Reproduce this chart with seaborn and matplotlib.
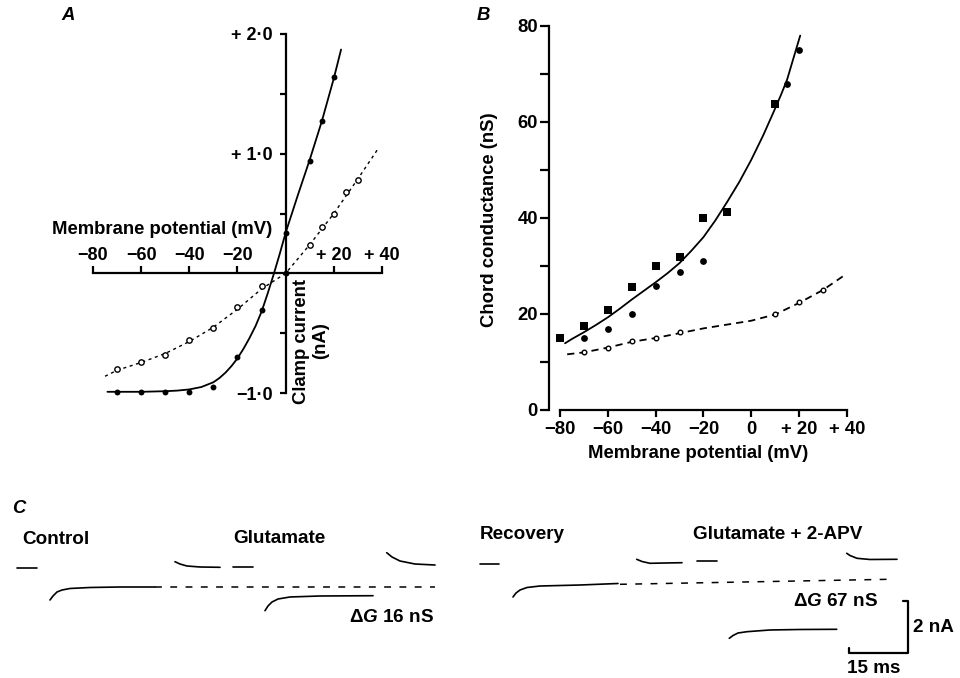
import matplotlib
matplotlib.use("Agg")
import matplotlib.pyplot as plt
import seaborn as sns

# ---------------- Panel A : I-V relation ----------------
a_v_fill = [-70, -60, -50, -40, -30, -20, -10, 0, 0, 10, 15, 20]
a_i_fill = [-0.99, -0.99, -0.99, -0.99, -0.95, -0.70, -0.31, 0.34, 0.0, 0.94, 1.27, 1.64]
a_v_open = [-70, -60, -50, -40, -30, -20, -10, 10, 15, 20, 25, 30]
a_i_open = [-0.80, -0.745, -0.68, -0.56, -0.455, -0.28, -0.11, 0.24, 0.39, 0.50, 0.68, 0.78]
a_fit_v = [-74, -60, -50, -45, -40, -35, -30, -27.5, -25, -22.5, -20, -17.5, -15, -12.5, -10,
           -7.5, -5, -2.5, 0, 5, 10, 15, 20, 23]
a_fit_i = [-0.99, -0.99, -0.985, -0.98, -0.97, -0.95, -0.91, -0.875, -0.83, -0.775, -0.71,
           -0.63, -0.54, -0.44, -0.32, -0.17, -0.01, 0.16, 0.34, 0.65, 0.95, 1.27, 1.63, 1.87]
a_dash_v = [-75, -70, -60, -50, -40, -30, -20, -10, 0, 10, 20, 30, 38]
a_dash_i = [-0.86, -0.81, -0.745, -0.67, -0.57, -0.45, -0.30, -0.13, 0.0, 0.24, 0.50, 0.79, 1.03]
a_xticks = [-80, -60, -40, -20, 20, 40]
a_xticklabels = ["\u221280", "\u221260", "\u221240", "\u221220", "+ 20", "+ 40"]
a_yticks = [-1.0, -0.5, 0.5, 1.0, 1.5, 2.0]
a_yticklabels = ["\u22121\u00b70", "", "", "+ 1\u00b70", "", "+ 2\u00b70"]

# ---------------- Panel B : chord conductance ----------------
b_v_sq = [-80, -70, -60, -50, -40, -30, -20, -10, 10]
b_g_sq = [14.9, 17.5, 20.8, 25.7, 30.0, 31.8, 40.1, 41.2, 63.8]
b_v_ci = [-70, -60, -50, -40, -30, -20, 15, 20]
b_g_ci = [14.9, 16.9, 19.9, 25.8, 28.75, 31.1, 67.9, 74.9]
b_v_open = [-70, -60, -50, -40, -30, 10, 20, 30]
b_g_open = [12.0, 13.0, 14.4, 14.9, 16.2, 19.9, 22.4, 24.9]
b_fit_v = [-77.9, -75, -70, -65, -60, -55, -50, -45, -40, -35, -30, -25, -20, -15, -10, -5,
           0, 5, 10, 12.5, 15, 17.5, 20.5]
b_fit_g = [13.9, 14.8, 16.2, 17.7, 19.3, 21.1, 23.0, 24.8, 26.6, 28.5, 30.6, 33.2, 36.0, 39.5,
           43.4, 47.5, 52.1, 57.2, 62.8, 65.7, 68.8, 73.0, 78.0]
b_dash_v = [-77, -70, -60, -50, -40, -30, -20, -10, 0, 10, 20, 30, 38.5]
b_dash_g = [11.6, 12.0, 13.0, 14.2, 15.0, 16.0, 17.0, 17.8, 18.6, 19.9, 22.3, 25.0, 27.9]
b_xticks = [-80, -60, -40, -20, 0, 20, 40]
b_xticklabels = ["\u221280", "\u221260", "\u221240", "\u221220", "0", "+ 20", "+ 40"]
b_yticks = [0, 10, 20, 30, 40, 50, 60, 70, 80]
b_yticklabels = ["0", "", "20", "", "40", "", "60", "", "80"]

# ---------------- Panel C : current traces (ms, nA) ----------------
ctrl_hold_t = [4.33, 9.41]
ctrl_hold_i = [4.207, 4.207]
ctrl_step_t = [12.72, 13.49, 14.50, 15.78, 17.81, 22.90, 30.53, 39.44]
ctrl_step_i = [2.983, 3.136, 3.289, 3.365, 3.423, 3.461, 3.480, 3.480]
ctrl_base_t = [39.44, 110.69]
ctrl_base_i = [3.480, 3.480]
ctrl_post_t = [44.53, 45.80, 47.58, 50.89, 55.98]
ctrl_post_i = [4.447, 4.359, 4.283, 4.245, 4.233]
glu_hold_t = [59.29, 64.38]
glu_hold_i = [4.256, 4.256]
glu_step_t = [67.43, 68.19, 69.21, 70.74, 73.79, 81.42, 94.91]
glu_step_i = [2.574, 2.753, 2.906, 3.021, 3.098, 3.136, 3.147]
glu_post_t = [98.40, 99.75, 101.78, 105.60, 110.69]
glu_post_i = [4.792, 4.627, 4.474, 4.359, 4.321]

rec_hold_t = [122.14, 126.97]
rec_hold_i = [4.359, 4.359]
rec_step_t = [130.53, 131.30, 132.32, 134.10, 137.40, 147.58, 157.25]
rec_step_i = [3.098, 3.250, 3.365, 3.461, 3.518, 3.556, 3.614]
rec_base_t = [157.76, 225.95]
rec_base_i = [3.583, 3.774]
rec_post_t = [162.01, 163.36, 165.39, 169.21, 173.54]
rec_post_i = [4.539, 4.455, 4.386, 4.398, 4.409]
apv_hold_t = [177.35, 182.44]
apv_hold_i = [4.486, 4.486]
apv_step_t = [185.57, 186.51, 187.79, 190.08, 195.93, 203.56, 212.90]
apv_step_i = [1.518, 1.625, 1.721, 1.771, 1.836, 1.855, 1.862]
apv_post_t = [215.45, 216.28, 218.07, 221.37, 228.24]
apv_post_i = [4.769, 4.685, 4.577, 4.532, 4.539]

scale_t = [216.1, 216.1, 231.1, 231.1, 229.8]
scale_i = [1.14, 0.945, 0.945, 2.945, 2.945]

# ---------------- style ----------------
sns.set_theme(style="ticks")
plt.rcParams.update({
    "font.family": ["Liberation Sans", "DejaVu Sans"],
    "font.weight": "bold",
    "font.size": 13,
    "axes.linewidth": 1.6,
    "axes.edgecolor": "black",
    "xtick.color": "black",
    "ytick.color": "black",
    "text.color": "black",
    "mathtext.fontset": "custom",
    "mathtext.rm": "Liberation Sans:bold",
    "mathtext.it": "Liberation Sans:italic:bold",
    "mathtext.bf": "Liberation Sans:bold",
})

W, H = 960, 678
fig = plt.figure(figsize=(W / 100, H / 100), dpi=100)


def rect(l, t, r, b):
    return [l / W, 1 - b / H, (r - l) / W, (b - t) / H]


def fpt(x, y):
    return x / W, 1 - y / H


def line(ax, x, y, **kw):
    sns.lineplot(x=x, y=y, ax=ax, color="black", sort=False, estimator=None, **kw)


FS = 13.3
TFS = 13.0

# ---------------- Panel A ----------------
axA = fig.add_axes(rect(93, 34, 382, 393))
axA.patch.set_alpha(0)
line(axA, a_fit_v, a_fit_i, lw=1.3)
line(axA, a_dash_v, a_dash_i, lw=1.0, linestyle=(0, (2.2, 2.6)))
sns.scatterplot(x=a_v_fill, y=a_i_fill, ax=axA, color="black", s=18, linewidth=0, zorder=3)
sns.scatterplot(x=a_v_open, y=a_i_open, ax=axA, color="white", edgecolor="black",
                s=15, linewidth=1.0, zorder=3)
axA.set_xlim(-80, 40)
axA.set_ylim(-1, 2)
for s in ["right", "bottom"]:
    axA.spines[s].set_visible(False)
axA.spines["left"].set_position(("data", 0))
axA.spines["left"].set_bounds(-1, 2)
axA.spines["top"].set_position(("data", 0))
axA.spines["top"].set_bounds(-80, 40)
axA.xaxis.set_ticks_position("top")
axA.yaxis.set_ticks_position("left")
axA.set_xticks(a_xticks, labels=a_xticklabels)
axA.set_yticks(a_yticks, labels=a_yticklabels)
axA.tick_params(axis="x", direction="out", length=5, width=1.6, pad=2, labelsize=TFS)
axA.tick_params(axis="y", direction="out", length=4.5, width=1.6, pad=5, labelsize=TFS)
axA.set_xlabel("")
axA.set_ylabel("")
for art in axA.lines + axA.collections:
    art.set_clip_on(False)
fig.text(*fpt(162.5, 229), "Membrane potential (mV)", ha="center", va="center", fontsize=FS)
fig.text(*fpt(311, 341), "Clamp current\n(nA)", ha="center", va="center", rotation=90,
         fontsize=FS, linespacing=1.2, multialignment="center")
fig.text(*fpt(68, 15), "A", ha="center", va="center", fontsize=FS, style="italic")

# ---------------- Panel B ----------------
axB = fig.add_axes(rect(549, 26, 870, 410))
axB.patch.set_alpha(0)
line(axB, b_fit_v, b_fit_g, lw=1.3)
line(axB, b_dash_v, b_dash_g, lw=1.3, linestyle=(0, (4.0, 2.8)))
sns.scatterplot(x=b_v_sq, y=b_g_sq, ax=axB, color="black", marker="s", s=26, linewidth=0, zorder=3)
sns.scatterplot(x=b_v_ci, y=b_g_ci, ax=axB, color="black", marker="o", s=24, linewidth=0, zorder=3)
sns.scatterplot(x=b_v_open, y=b_g_open, ax=axB, color="white", edgecolor="black",
                s=11, linewidth=1.0, zorder=3)
axB.set_xlim(-84.6, 49.7)
axB.set_ylim(0, 80)
for s in ["right", "top"]:
    axB.spines[s].set_visible(False)
axB.spines["left"].set_bounds(0, 80)
axB.spines["bottom"].set_bounds(-80, 40)
axB.set_xticks(b_xticks, labels=b_xticklabels)
axB.set_yticks(b_yticks, labels=b_yticklabels)
axB.tick_params(axis="x", direction="out", length=5, width=1.6, pad=3, labelsize=FS)
axB.tick_params(axis="y", direction="out", length=6.5, width=1.6, pad=1.5, labelsize=FS)
axB.set_xlabel("")
axB.set_ylabel("")
for art in axB.lines + axB.collections:
    art.set_clip_on(False)
fig.text(*fpt(698, 453), "Membrane potential (mV)", ha="center", va="center", fontsize=FS)
fig.text(*fpt(489.5, 220), "Chord conductance (nS)", ha="center", va="center",
         rotation=90, fontsize=FS)
fig.text(*fpt(483, 15), "B", ha="center", va="center", fontsize=FS, style="italic")

# ---------------- Panel C ----------------
axC = fig.add_axes(rect(0, 490, 960, 678))
axC.set_xlim(0, W / 3.93)
axC.set_ylim(0, 188 / 26.15)
axC.axis("off")
TW = 1.2
for t, i in [(ctrl_hold_t, ctrl_hold_i), (ctrl_step_t, ctrl_step_i), (ctrl_post_t, ctrl_post_i),
             (glu_hold_t, glu_hold_i), (glu_step_t, glu_step_i), (glu_post_t, glu_post_i),
             (rec_hold_t, rec_hold_i), (rec_step_t, rec_step_i), (rec_post_t, rec_post_i),
             (apv_hold_t, apv_hold_i), (apv_step_t, apv_step_i), (apv_post_t, apv_post_i)]:
    line(axC, t, i, lw=TW)
line(axC, ctrl_base_t, ctrl_base_i, lw=1.1, linestyle=(0, (4.5, 5.5)))
line(axC, rec_base_t, rec_base_i, lw=1.1, linestyle=(0, (4.5, 5.5)))
line(axC, scale_t, scale_i, lw=1.6)
axC.set_xlabel("")
axC.set_ylabel("")

CFS = 13.6
axC.text(3.0, 6.50, "C", ha="left", va="center", fontsize=FS, style="italic")
axC.text(5.6, 5.28, "Control", ha="left", va="center", fontsize=CFS)
axC.text(59.3, 5.32, "Glutamate", ha="left", va="center", fontsize=CFS)
axC.text(88.8, 2.33, r"$\Delta\mathit{G}$ 16 nS", ha="left", va="center", fontsize=CFS)
axC.text(122.1, 5.47, "Recovery", ha="left", va="center", fontsize=CFS)
axC.text(176.3, 5.47, "Glutamate + 2-APV", ha="left", va="center", fontsize=CFS)
axC.text(201.8, 2.91, r"$\Delta\mathit{G}$ 67 nS", ha="left", va="center", fontsize=CFS)
axC.text(232.3, 1.95, "2 nA", ha="left", va="center", fontsize=CFS)
axC.text(222.3, 0.03, "15 ms", ha="center", va="bottom", fontsize=CFS)

fig.savefig("out.png", dpi=100)
